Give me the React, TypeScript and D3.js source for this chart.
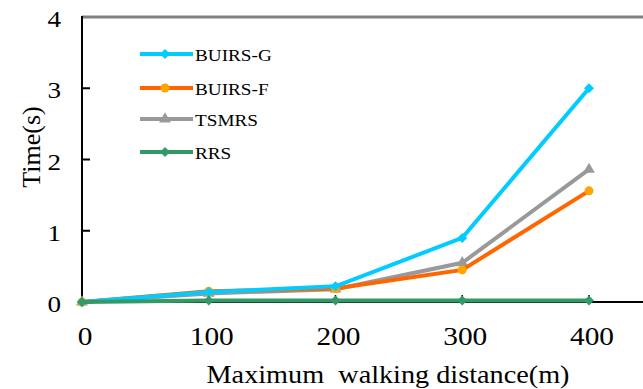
import React from "react";
import * as d3 from "d3";

const xTicks = [0, 100, 200, 300, 400];
const yTicks = [0, 1, 2, 3, 4];
const distances = [0, 100, 200, 300, 400];
const buirsG = [0, 0.14, 0.22, 0.9, 3.0];
const buirsF = [0, 0.15, 0.19, 0.45, 1.56];
const tsmrs = [0, 0.12, 0.18, 0.55, 1.86];
const rrs = [0, 0.02, 0.02, 0.02, 0.02];

const seriesNames = ["BUIRS-G", "BUIRS-F", "TSMRS", "RRS"];
const seriesValues = [buirsG, buirsF, tsmrs, rrs];
const lineColors = ["#00CCFF", "#FF6600", "#999999", "#339966"];
const markerColors = ["#00CCFF", "#FFA500", "#999999", "#339966"];
const markerTypes = ["diamond", "circle", "triangle", "diamond"];

const W = 643;
const H = 389;
const x = d3.scaleLinear().domain([0, 400]).range([82, 589]);
const y = d3.scaleLinear().domain([0, 4]).range([302, 17]);
const font = "Liberation Serif, DejaVu Serif, serif";
const SX = 1.13;

function Marker({ type, cx, cy, color }: { type: string; cx: number; cy: number; color: string }) {
  if (type === "circle") return <circle cx={cx} cy={cy} r={4.5} fill={color} />;
  if (type === "triangle") {
    const p = d3.symbol().type(d3.symbolTriangle).size(60)();
    return <path d={p || ""} transform={`translate(${cx},${cy})`} fill={color} />;
  }
  const d = `M${cx - 5},${cy} L${cx},${cy - 5} L${cx + 5},${cy} L${cx},${cy + 5} Z`;
  return <path d={d} fill={color} />;
}

function T({ x0, y0, size, anchor, children, pre }: { x0: number; y0: number; size: number; anchor?: string; children: React.ReactNode; pre?: boolean }) {
  return (
    <text
      transform={`translate(${x0},${y0}) scale(${SX},1)`}
      textAnchor={anchor || "start"}
      style={{ fontFamily: font, whiteSpace: pre ? "pre" : undefined }}
      fontSize={size}
      fill="#000"
    >
      {children}
    </text>
  );
}

export default function App() {
  const line = d3
    .line<number>()
    .x((_, i) => x(distances[i]))
    .y((v) => y(v));
  const legendY = [54, 88, 119, 152];
  const order = [2, 1, 0, 3];
  return (
    <svg width={W} height={H} style={{ position: "absolute", left: 0, top: 0, background: "#fff", fontFamily: font }}>
      <line x1={82} x2={W} y1={17} y2={17} stroke="#808080" strokeWidth={3} />
      <line x1={82} x2={82} y1={16} y2={303} stroke="#000" strokeWidth={2} />
      <line x1={81} x2={W} y1={302} y2={302} stroke="#000" strokeWidth={2} />
      {yTicks.map((t) => (
        <g key={"y" + t}>
          {t > 0 && t < 4 && <line x1={82} x2={90} y1={y(t)} y2={y(t)} stroke="#000" strokeWidth={2} />}
          <T x0={61} y0={y(t) + 10} size={24} anchor="end">
            {t}
          </T>
        </g>
      ))}
      {xTicks.map((t) => (
        <g key={"x" + t}>
          {t > 0 && <line x1={x(t)} x2={x(t)} y1={302} y2={295} stroke="#000" strokeWidth={1.5} />}
          <T x0={x(t) + 3} y0={345} size={26} anchor="middle">
            {t}
          </T>
        </g>
      ))}
      <T x0={388} y0={383} size={25} anchor="middle" pre>
        {"Maximum  walking distance(m)"}
      </T>
      <text
        transform="translate(40,147) rotate(-90)"
        textAnchor="middle"
        style={{ fontFamily: font }}
        fontSize={26}
        fill="#000"
      >
        Time(s)
      </text>
      {order.map((si) => (
        <g key={seriesNames[si]}>
          <path d={line(seriesValues[si]) || ""} fill="none" stroke={lineColors[si]} strokeWidth={4} />
          {seriesValues[si].map((v, i) => (
            <Marker key={i} type={markerTypes[si]} cx={x(distances[i])} cy={y(v)} color={markerColors[si]} />
          ))}
        </g>
      ))}
      {seriesNames.map((n, i) => (
        <g key={"lg" + n}>
          <line x1={140} x2={193} y1={legendY[i]} y2={legendY[i]} stroke={lineColors[i]} strokeWidth={4} />
          <Marker type={markerTypes[i]} cx={165} cy={legendY[i]} color={markerColors[i]} />
          <T x0={195} y0={legendY[i] + 7} size={17}>
            {n}
          </T>
        </g>
      ))}
    </svg>
  );
}
